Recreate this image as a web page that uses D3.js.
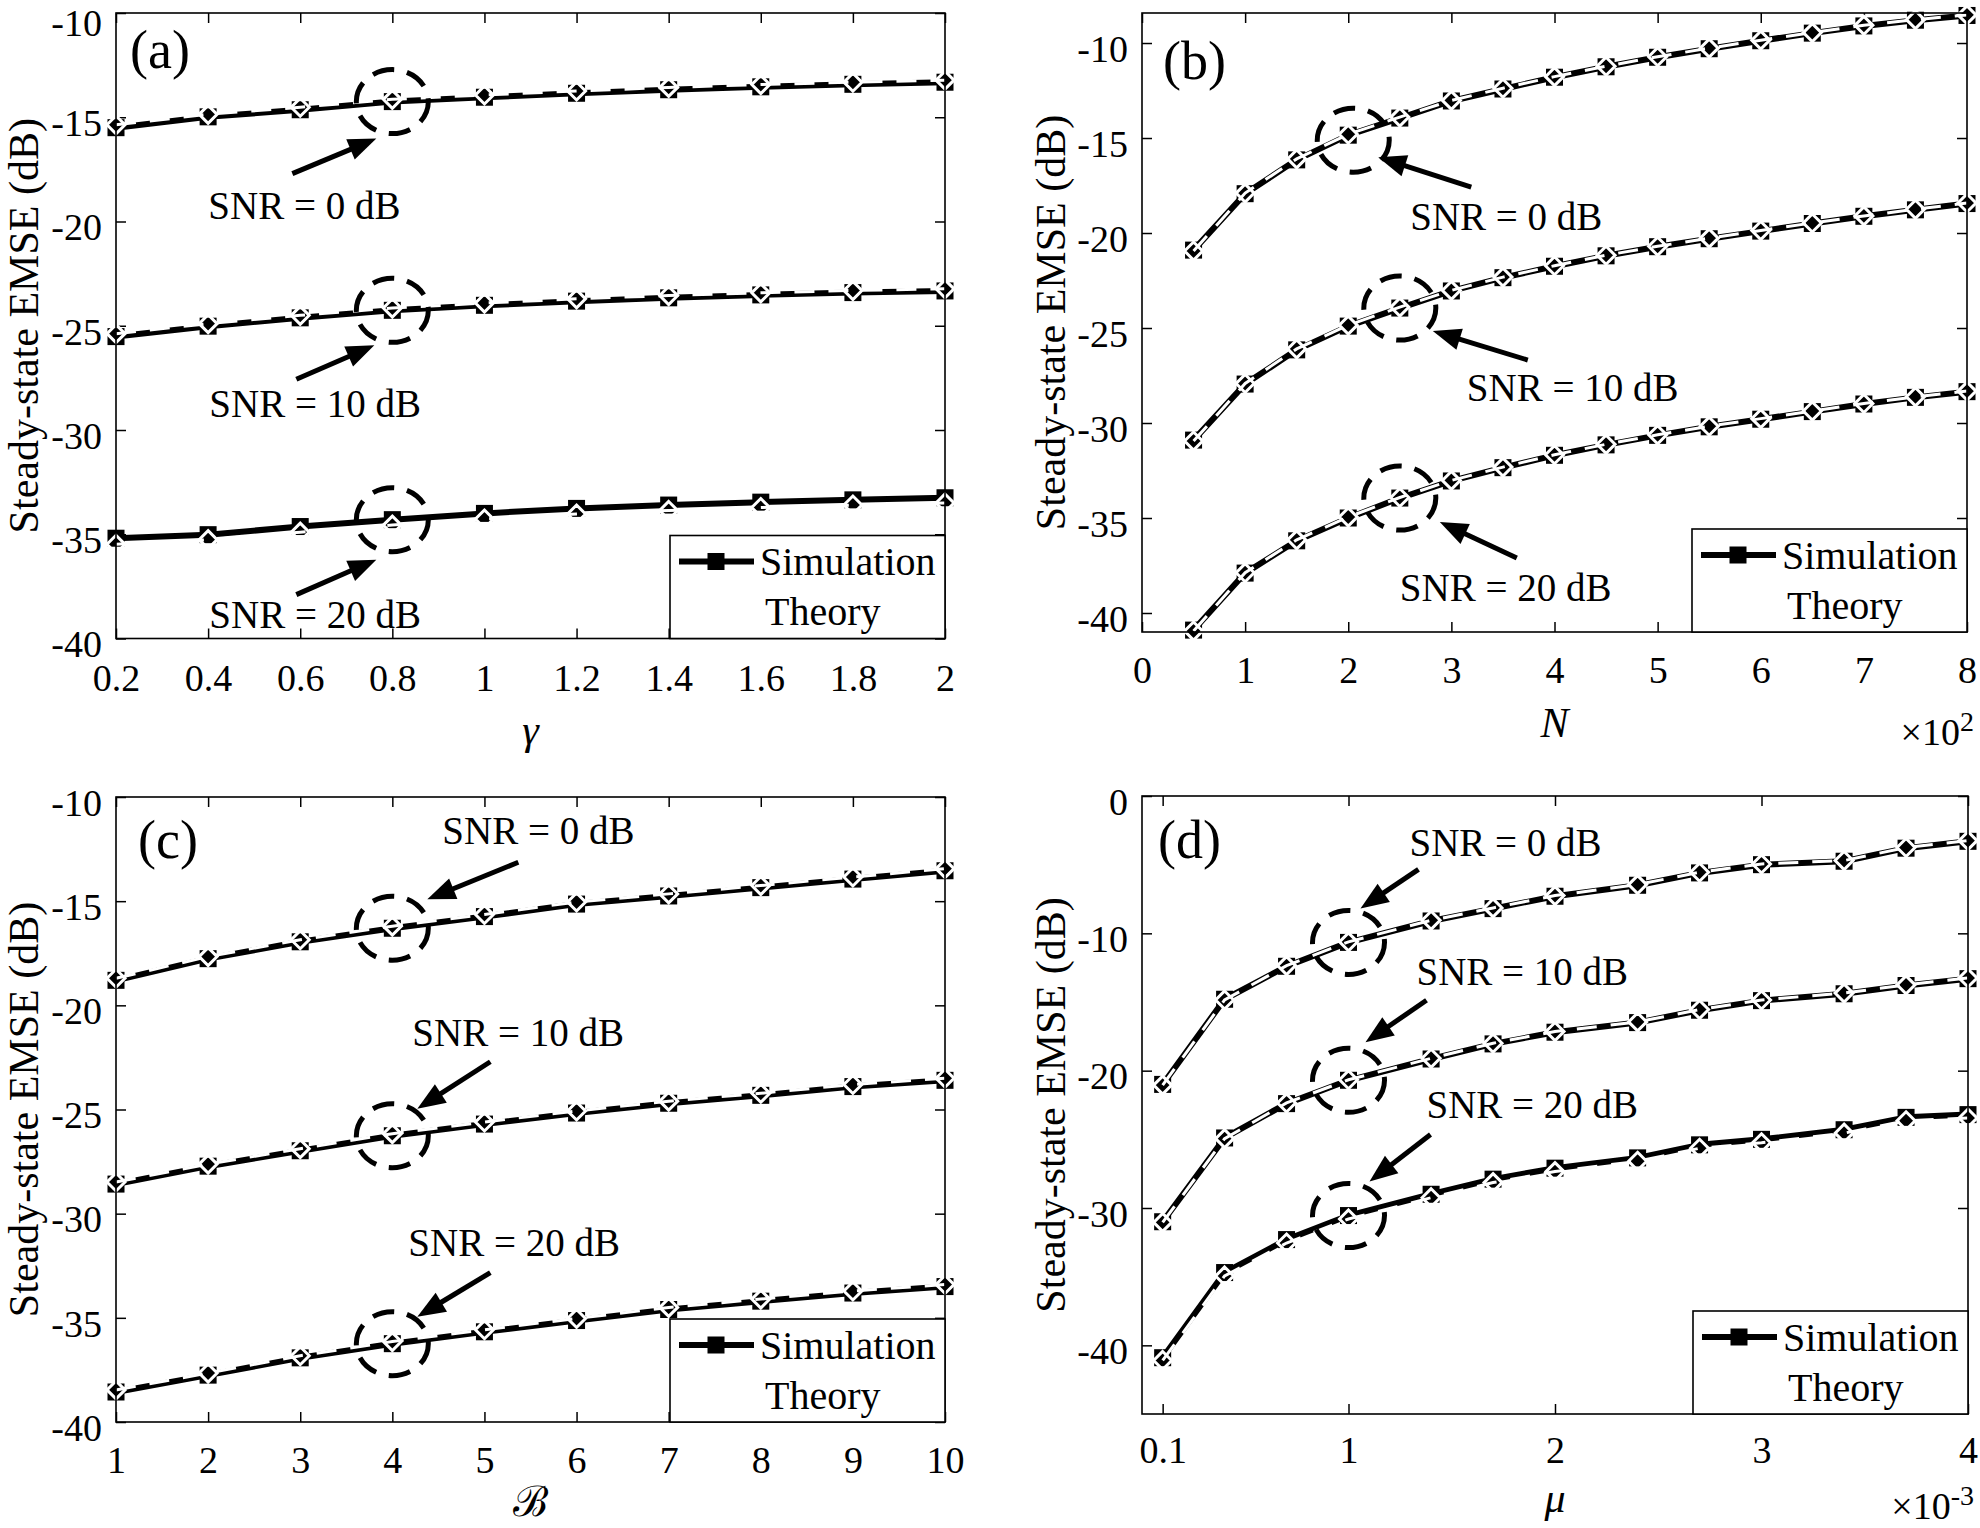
<!DOCTYPE html>
<html><head><meta charset="utf-8">
<script src="https://cdn.jsdelivr.net/npm/d3@7"></script>
<style>
body{margin:0;background:#fff}
text{font-family:"Liberation Serif","Times New Roman",Times,serif;fill:#000}
</style>
</head><body>
<svg id="c" width="1980" height="1528" xmlns="http://www.w3.org/2000/svg"></svg>
<script>
// ---------------- DATA ----------------
const snrLabels = ["SNR = 0 dB", "SNR = 10 dB", "SNR = 20 dB"];
const legendLabels = ["Simulation", "Theory"];
const yAxisTitle = "Steady-state EMSE (dB)";

// (a) gamma
const gammaX = [0.2,0.4,0.6,0.8,1.0,1.2,1.4,1.6,1.8,2.0];
const simA0  = [-15.50,-14.98,-14.64,-14.25,-14.04,-13.85,-13.68,-13.54,-13.42,-13.32];
const thA0   = [-15.36,-14.86,-14.52,-14.14,-13.93,-13.74,-13.57,-13.43,-13.32,-13.22];
const simA10 = [-25.52,-25.02,-24.62,-24.26,-24.02,-23.82,-23.66,-23.52,-23.41,-23.33];
const thA10  = [-25.38,-24.90,-24.50,-24.15,-23.91,-23.71,-23.55,-23.42,-23.31,-23.23];
const simA20 = [-35.19,-35.02,-34.63,-34.30,-34.00,-33.76,-33.60,-33.46,-33.35,-33.25];
const thA20  = [-35.48,-35.26,-34.90,-34.56,-34.27,-34.03,-33.86,-33.72,-33.60,-33.50];
const xTicksA = [0.2,0.4,0.6,0.8,1,1.2,1.4,1.6,1.8,2];
const yTicksA = [-40,-35,-30,-25,-20,-15,-10];

// (b) N (x10^2)
const nX = [0.5,1,1.5,2,2.5,3,3.5,4,4.5,5,5.5,6,6.5,7,7.5,8];
const simB0  = [-20.90,-17.93,-16.15,-14.85,-13.95,-13.05,-12.42,-11.80,-11.25,-10.75,-10.30,-9.88,-9.48,-9.10,-8.80,-8.55];
const thB0   = [-20.95,-17.90,-16.10,-14.80,-13.90,-13.02,-12.38,-11.77,-11.22,-10.72,-10.27,-9.85,-9.45,-9.07,-8.77,-8.52];
const simB10 = [-30.90,-27.95,-26.15,-24.90,-23.95,-23.05,-22.35,-21.75,-21.20,-20.72,-20.30,-19.90,-19.50,-19.12,-18.78,-18.45];
const thB10  = [-30.95,-27.92,-26.10,-24.85,-23.90,-23.02,-22.32,-21.72,-21.17,-20.70,-20.27,-19.87,-19.47,-19.10,-18.75,-18.42];
const simB20 = [-40.90,-37.90,-36.20,-35.00,-33.95,-33.05,-32.35,-31.70,-31.15,-30.65,-30.20,-29.80,-29.40,-29.00,-28.65,-28.35];
const thB20  = [-40.95,-37.88,-36.15,-34.95,-33.92,-33.02,-32.32,-31.67,-31.12,-30.62,-30.17,-29.77,-29.37,-28.97,-28.62,-28.32];
const xTicksB = [0,1,2,3,4,5,6,7,8];
const yTicksB = [-40,-35,-30,-25,-20,-15,-10];

// (c) B
const bX = [1,2,3,4,5,6,7,8,9,10];
const simC0  = [-18.80,-17.76,-16.95,-16.30,-15.74,-15.14,-14.75,-14.35,-13.94,-13.54];
const thC0   = [-18.70,-17.66,-16.85,-16.20,-15.64,-15.04,-14.65,-14.25,-13.84,-13.44];
const simC10 = [-28.58,-27.72,-26.98,-26.26,-25.70,-25.17,-24.70,-24.32,-23.90,-23.60];
const thC10  = [-28.48,-27.62,-26.88,-26.16,-25.60,-25.07,-24.60,-24.22,-23.80,-23.50];
const simC20 = [-38.56,-37.75,-36.92,-36.24,-35.67,-35.13,-34.60,-34.20,-33.81,-33.50];
const thC20  = [-38.46,-37.65,-36.82,-36.14,-35.57,-35.03,-34.50,-34.10,-33.71,-33.40];
const xTicksC = [1,2,3,4,5,6,7,8,9,10];
const yTicksC = [-40,-35,-30,-25,-20,-15,-10];

// (d) mu (x10^-3)
const muX = [0.1,0.4,0.7,1.0,1.4,1.7,2.0,2.4,2.7,3.0,3.4,3.7,4.0];
const simD0  = [-21.00,-14.80,-12.40,-10.66,-9.10,-8.20,-7.30,-6.50,-5.60,-5.00,-4.75,-3.80,-3.30];
const thD0   = [-21.05,-14.85,-12.35,-10.62,-9.05,-8.15,-7.25,-6.45,-5.55,-4.95,-4.70,-3.75,-3.25];
const simD10 = [-31.00,-24.90,-22.40,-20.70,-19.15,-18.05,-17.20,-16.50,-15.60,-14.90,-14.40,-13.80,-13.30];
const thD10  = [-31.05,-24.95,-22.35,-20.66,-19.10,-18.00,-17.15,-16.45,-15.55,-14.85,-14.35,-13.75,-13.25];
const simD20 = [-40.90,-34.70,-32.30,-30.55,-29.00,-27.90,-27.10,-26.35,-25.40,-25.00,-24.30,-23.40,-23.20];
const thD20  = [-41.10,-34.95,-32.55,-30.80,-29.25,-28.15,-27.35,-26.60,-25.65,-25.25,-24.55,-23.65,-23.45];
const xTicksD = [0.1,1,2,3,4];
const yTicksD = [-40,-30,-20,-10,0];

// ---------------- LAYOUT ----------------
const FONT = '"Liberation Serif","Times New Roman",Times,serif';
const panels = [
  {tag:"(a)", left:116, right:945, top:13, bottom:638.5, xdom:[0.2,2], ydom:[-40,-10],
   xs:gammaX, sims:[simA0,simA10,simA20], ths:[thA0,thA10,thA20], xt:xTicksA, yt:yTicksA, xpad:26,
   tagPos:[14,55], ylabX:20, xlab:{t:"γ", it:true, y:730}, mult:null,
   ann:[{i:3,tx:-184,ty:104,t1:[-100,72],t2:[-16,37]},
        {i:3,tx:-183,ty:93,t1:[-96,69],t2:[-18,35]},
        {i:3,tx:-183,ty:95,t1:[-96,75],t2:[-16,40]}]},
  {tag:"(b)", left:1142, right:1967, top:13, bottom:632, xdom:[0,8], ydom:[-41,-8.42],
   xs:nX, sims:[simB0,simB10,simB20], ths:[thB0,thB10,thB20], xt:xTicksB, yt:yTicksB, xpad:24,
   tagPos:[21,66], ylabX:1047, xlab:{t:"N", it:true, y:723}, mult:{base:"×10", exp:"2", y:732},
   ann:[{i:3,tx:62,ty:82,t1:[123,52],t2:[30,22],e:[5,5]},
        {i:4,tx:67,ty:80,t1:[128,52],t2:[33,23]},
        {i:4,tx:0,ty:90,t1:[117,60],t2:[40,24]}]},
  {tag:"(c)", left:116, right:945, top:797, bottom:1422, xdom:[1,10], ydom:[-40,-10],
   xs:bX, sims:[simC0,simC10,simC20], ths:[thC0,thC10,thC20], xt:xTicksC, yt:yTicksC, xpad:24,
   tagPos:[22,61], ylabX:20, xlab:{t:"ℬ", it:false, y:1502}, mult:null,
   ann:[{i:3,tx:50,ty:-98,t1:[126,-66],t2:[35,-29]},
        {i:3,tx:20,ty:-103,t1:[98,-74],t2:[25,-27]},
        {i:3,tx:16,ty:-101,t1:[98,-71],t2:[25,-27]}]},
  {tag:"(d)", left:1142, right:1968, top:796, bottom:1414, xdom:[0,4], ydom:[-45,0],
   xs:muX, sims:[simD0,simD10,simD20], ths:[thD0,thD10,thD20], xt:xTicksD, yt:yTicksD, xpad:22,
   tagPos:[16,62], ylabX:1047, xlab:{t:"μ", it:true, y:1498}, mult:{base:"×10", exp:"-3", y:1506},
   ann:[{i:3,tx:61,ty:-100,t1:[70,-73],t2:[12,-34]},
        {i:3,tx:68,ty:-109,t1:[78,-80],t2:[17,-38]},
        {i:3,tx:78,ty:-111,t1:[82,-81],t2:[21,-34]}]}
];

const svg = d3.select("#c");
svg.append("rect").attr("width",1980).attr("height",1528).attr("fill","#fff");

const SQ = 17, DH = 9;
function diamondPath(h){ return `M0,${-h}L${h},0L0,${h}L${-h},0Z`; }

function drawArrow(g, x1, y1, x2, y2){
  const dx = x2-x1, dy = y2-y1, L = Math.hypot(dx,dy);
  const ux = dx/L, uy = dy/L, hl = 28, hw = 11;
  const bx = x2 - ux*hl, by = y2 - uy*hl;
  g.append("line").attr("x1",x1).attr("y1",y1).attr("x2",bx+ux*2).attr("y2",by+uy*2)
    .attr("stroke","#000").attr("stroke-width",5);
  g.append("path").attr("d",`M${x2},${y2}L${bx-uy*hw},${by+ux*hw}L${bx+uy*hw},${by-ux*hw}Z`)
    .attr("fill","#000");
}

panels.forEach(P=>{
  const x = d3.scaleLinear().domain(P.xdom).range([P.left,P.right]);
  const y = d3.scaleLinear().domain(P.ydom).range([P.bottom,P.top]);
  const g = svg.append("g");
  const fmt = d => String(d);

  // axes
  const ax = g.append("g").attr("transform",`translate(0,${P.bottom})`)
    .call(d3.axisBottom(x).tickValues(P.xt).tickFormat(fmt).tickSizeInner(-10).tickSizeOuter(0).tickPadding(P.xpad));
  const ay = g.append("g").attr("transform",`translate(${P.left},0)`)
    .call(d3.axisLeft(y).tickValues(P.yt).tickFormat(fmt).tickSizeInner(-10).tickSizeOuter(0).tickPadding(14));
  g.append("g").attr("transform",`translate(0,${P.top})`)
    .call(d3.axisTop(x).tickValues(P.xt).tickFormat("").tickSizeInner(-10).tickSizeOuter(0));
  g.append("g").attr("transform",`translate(${P.right},0)`)
    .call(d3.axisRight(y).tickValues(P.yt).tickFormat("").tickSizeInner(-10).tickSizeOuter(0));
  g.selectAll(".domain").remove();
  g.selectAll(".tick line").attr("stroke","#000").attr("stroke-width",1.5);
  [ax,ay].forEach(a=>a.attr("font-family",FONT).attr("font-size",38));
  g.selectAll(".tick text").attr("fill","#000");
  // y tick labels sit slightly below their ticks (as in the reference); keep the top one inside the page
  ay.selectAll(".tick text").attr("dy", d => {
    const base = 0.48*38, need = 35 - y(d);
    return Math.max(base, need) + "px";
  });

  // series: simulation
  const line = d3.line().x((d,i)=>x(P.xs[i])).y(d=>y(d));
  P.sims.forEach(s=>{
    g.append("path").attr("d",line(s)).attr("fill","none").attr("stroke","#000")
      .attr("stroke-width",6).attr("stroke-linejoin","round");
    g.selectAll(null).data(s).enter().append("rect")
      .attr("x",(d,i)=>x(P.xs[i])-SQ/2).attr("y",d=>y(d)-SQ/2)
      .attr("width",SQ).attr("height",SQ).attr("fill","#000");
  });
  // series: theory (white dashed)
  P.ths.forEach(s=>{
    g.append("path").attr("d",line(s)).attr("fill","none").attr("stroke","#fff")
      .attr("stroke-width",3).attr("stroke-dasharray","20 14");
    g.selectAll(null).data(s).enter().append("path")
      .attr("d",diamondPath(DH))
      .attr("transform",(d,i)=>`translate(${x(P.xs[i])},${y(d)})`)
      .attr("fill","none").attr("stroke","#fff").attr("stroke-width",3);
  });

  // annotations
  P.ann.forEach((a,k)=>{
    const cx = x(P.xs[a.i]), cy = y(P.sims[k][a.i]);
    const e = a.e || [0,0];
    g.append("ellipse").attr("cx",cx+e[0]).attr("cy",cy+e[1]).attr("rx",36).attr("ry",32)
      .attr("fill","none").attr("stroke","#000").attr("stroke-width",5).attr("stroke-dasharray","22 13");
    drawArrow(g, cx+a.t1[0], cy+a.t1[1], cx+a.t2[0], cy+a.t2[1]);
    g.append("text").attr("x",cx+a.tx).attr("y",cy+a.ty).attr("dy","0.34em")
      .attr("font-size",39).text(snrLabels[k]);
  });

  // box
  g.append("rect").attr("x",P.left).attr("y",P.top).attr("width",P.right-P.left)
    .attr("height",P.bottom-P.top).attr("fill","none").attr("stroke","#000").attr("stroke-width",1.6);

  // legend
  const LW = 275, LH = 103;
  const lx = P.right-LW, ly = P.bottom-LH;
  const lg = g.append("g");
  lg.append("rect").attr("x",lx).attr("y",ly).attr("width",LW).attr("height",LH)
    .attr("fill","#fff").attr("stroke","#000").attr("stroke-width",1.6);
  lg.append("line").attr("x1",lx+9).attr("x2",lx+84).attr("y1",ly+26).attr("y2",ly+26)
    .attr("stroke","#000").attr("stroke-width",6);
  lg.append("rect").attr("x",lx+46-SQ/2).attr("y",ly+26-SQ/2).attr("width",SQ).attr("height",SQ).attr("fill","#000");
  lg.append("line").attr("x1",lx+9).attr("x2",lx+84).attr("y1",ly+76).attr("y2",ly+76)
    .attr("stroke","#fff").attr("stroke-width",3).attr("stroke-dasharray","20 14");
  lg.append("path").attr("d",diamondPath(DH)).attr("transform",`translate(${lx+46},${ly+76})`)
    .attr("fill","none").attr("stroke","#fff").attr("stroke-width",3);
  lg.append("text").attr("x",lx+90).attr("y",ly+26).attr("dy","0.34em").attr("font-size",40).text(legendLabels[0]);
  lg.append("text").attr("x",lx+95).attr("y",ly+76).attr("dy","0.34em").attr("font-size",40).text(legendLabels[1]);

  // panel tag
  g.append("text").attr("x",P.left+P.tagPos[0]).attr("y",P.top+P.tagPos[1])
    .attr("font-size",54).text(P.tag);

  // y title
  g.append("text").attr("transform",`translate(${P.ylabX},${(P.top+P.bottom)/2}) rotate(-90)`)
    .attr("text-anchor","middle").attr("dy","0.42em").attr("font-size",42).text(yAxisTitle);

  // x title
  g.append("text").attr("x",(P.left+P.right)/2).attr("y",P.xlab.y).attr("dy","0.34em")
    .attr("text-anchor","middle").attr("font-size",42)
    .attr("font-style",P.xlab.it?"italic":"normal").text(P.xlab.t);

  // multiplier
  if(P.mult){
    const t = g.append("text").attr("x",1974).attr("y",P.mult.y).attr("dy","0.34em")
      .attr("text-anchor","end").attr("font-size",38);
    t.append("tspan").text(P.mult.base);
    t.append("tspan").attr("dy","-0.5em").attr("font-size",28).text(P.mult.exp);
  }
});
</script>
</body></html>
